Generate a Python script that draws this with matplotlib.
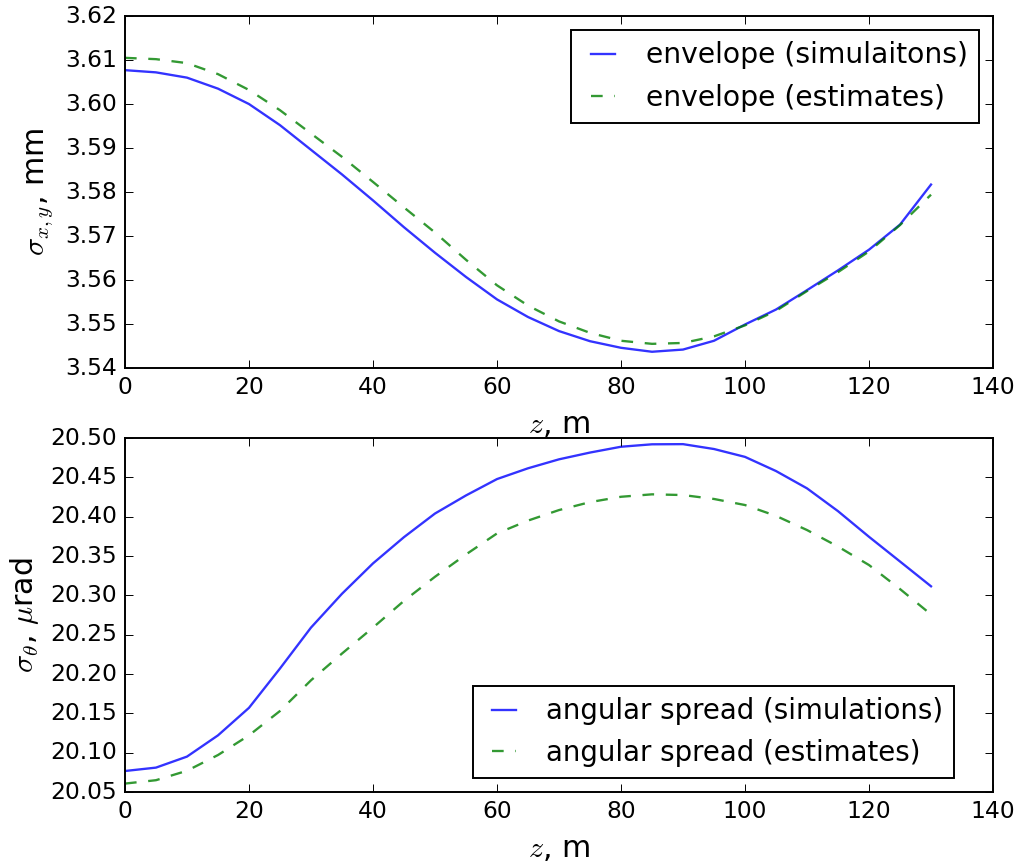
import matplotlib
matplotlib.use("Agg")
import matplotlib.pyplot as plt

# z positions along the line, m
z = [0, 5, 10, 15, 20, 25, 30, 35, 40, 45, 50, 55, 60, 65,
     70, 75, 80, 85, 90, 95, 100, 105, 110, 115, 120, 125, 130]

# beam envelope, mm
env_sim = [3.6077, 3.6072, 3.6060, 3.6035, 3.6000, 3.5952, 3.5896, 3.5840, 3.5781,
           3.5720, 3.5662, 3.5607, 3.5556, 3.5516, 3.5484, 3.5461, 3.5446, 3.5437,
           3.5442, 3.5462, 3.5499, 3.5533, 3.5577, 3.5622, 3.5669, 3.5726, 3.5817]
env_est = [3.6105, 3.6102, 3.6093, 3.6068, 3.6032, 3.5986, 3.5933, 3.5880, 3.5823,
           3.5765, 3.5708, 3.5646, 3.5588, 3.5542, 3.5506, 3.5480, 3.5462, 3.5455,
           3.5457, 3.5472, 3.5497, 3.5530, 3.5575, 3.5618, 3.5665, 3.5725, 3.5794]

# angular spread, urad
ang_sim = [20.0767, 20.0810, 20.0950, 20.1220, 20.1570, 20.2070, 20.2590, 20.3020, 20.3406,
           20.3740, 20.4040, 20.4270, 20.4478, 20.4615, 20.4729, 20.4815, 20.4889, 20.4920,
           20.4922, 20.4860, 20.4760, 20.4580, 20.4360, 20.4070, 20.3744, 20.3430, 20.3115]
ang_est = [20.0607, 20.0650, 20.0770, 20.0970, 20.1220, 20.1530, 20.1920, 20.2260, 20.2590,
           20.2930, 20.3236, 20.3520, 20.3787, 20.3950, 20.4084, 20.4185, 20.4253, 20.4284,
           20.4275, 20.4225, 20.4148, 20.4010, 20.3830, 20.3620, 20.3385, 20.3080, 20.2757]

plt.style.use("classic")
plt.rcParams["figure.facecolor"] = "white"
plt.rcParams["savefig.facecolor"] = "white"

fig = plt.figure(figsize=(1021 / 140, 867 / 140), dpi=140)
ax1 = fig.add_axes([0.1224, 0.5755, 0.8502, 0.4060])
ax2 = fig.add_axes([0.1224, 0.0865, 0.8502, 0.4083])

ax1.plot(z, env_sim, "b-", lw=1.2, alpha=0.8, label="envelope (simulaitons)")
ax1.plot(z, env_est, "g--", lw=1.2, alpha=0.8, label="envelope (estimates)")
ax1.set_xlim(0, 140)
ax1.set_ylim(3.54, 3.62)
ax1.set_yticks([3.54, 3.55, 3.56, 3.57, 3.58, 3.59, 3.60, 3.61, 3.62])
ax1.set_yticklabels(["%.2f" % v for v in ax1.get_yticks()])
ax1.set_xlabel(r"$z$, m", fontsize=15.5, labelpad=6)
ax1.set_ylabel(r"$\sigma_{x,y}$, mm", fontsize=15.5)
ax1.legend(loc="upper right", fontsize=14.5, handlelength=1.45)

ax2.plot(z, ang_sim, "b-", lw=1.2, alpha=0.8, label="angular spread (simulations)")
ax2.plot(z, ang_est, "g--", lw=1.2, alpha=0.8, label="angular spread (estimates)")
ax2.set_xlim(0, 140)
ax2.set_ylim(20.05, 20.50)
ax2.set_yticks([20.05, 20.10, 20.15, 20.20, 20.25, 20.30, 20.35, 20.40, 20.45, 20.50])
ax2.set_yticklabels(["%.2f" % v for v in ax2.get_yticks()])
ax2.set_xlabel(r"$z$, m", fontsize=15.5, labelpad=6)
ax2.set_ylabel(r"$\sigma_{\theta}$, $\mu$rad", fontsize=15.5)
ax2.legend(loc="lower right", fontsize=14.2, handlelength=1.45,
           bbox_to_anchor=(0.971, 0.0))

fig.savefig("out.png", dpi=140)
